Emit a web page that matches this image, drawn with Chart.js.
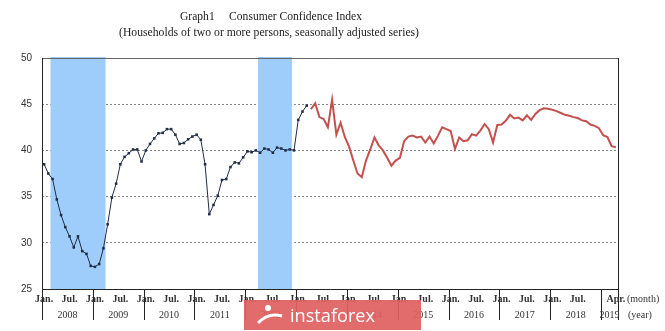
<!DOCTYPE html>
<html>
<head>
<meta charset="utf-8">
<script src="https://cdn.jsdelivr.net/npm/chart.js@4.4.0/dist/chart.umd.min.js"></script>
<style>
html, body { margin: 0; padding: 0; background: #fff; }
#wrap { width: 665px; height: 331px; }
</style>
</head>
<body>
<div id="wrap"><canvas id="cci" width="665" height="331"></canvas></div>
<script>
// months Jan 2008 .. Apr 2019
const months = [];
for (let y = 2008; y <= 2019; y++) {
    for (let m = 1; m <= 12; m++) {
        if (y === 2019 && m > 4) break;
        months.push(y + '-' + m);
    }
}
const years = ['2008', '2009', '2010', '2011', '2012', '2013', '2014', '2015', '2016', '2017', '2018', '2019'];
const yTicks = [25, 30, 35, 40, 45, 50];

// old survey method: Jan 2008 - Mar 2013
const oldSurvey = [
    38.5, 37.5, 36.9, 34.7, 33.0, 31.7, 30.7, 29.5, 30.7, 29.1, 28.8, 27.5,
    27.4, 27.7, 29.4, 32.0, 34.9, 36.4, 38.5, 39.3, 39.7, 40.1, 40.1, 38.8,
    40.0, 40.7, 41.3, 41.85, 41.9, 42.3, 42.3, 41.7, 40.7, 40.8, 41.2, 41.5,
    41.7, 41.15, 38.5, 33.1, 34.1, 35.1, 36.8, 36.9, 38.2, 38.7, 38.6, 39.25,
    39.9, 39.8, 40.0, 39.75, 40.2, 40.1, 39.75, 40.3, 40.2, 40.0, 40.1, 40.0,
    43.3, 44.2, 44.85
];
// new survey method: Apr 2013 - Apr 2019
const newSurvey = [
    44.45, 45.1, 43.6, 43.4, 42.5, 45.5, 41.7, 43.0, 41.45,
    40.4, 38.9, 37.5, 37.1, 38.9, 40.1, 41.4, 40.55, 40.0, 39.2, 38.35, 38.9,
    39.2, 41.0, 41.5, 41.6, 41.4, 41.5, 40.85, 41.5, 40.75, 41.6, 42.5, 42.3,
    42.1, 40.15, 41.4, 41.0, 41.1, 41.75, 41.6, 42.15, 42.85, 42.3, 40.85, 42.75,
    42.8, 43.2, 43.85, 43.45, 43.55, 43.25, 43.8, 43.3, 43.95, 44.35, 44.55, 44.5,
    44.4, 44.25, 44.05, 43.85, 43.75, 43.6, 43.5, 43.25, 43.15, 42.8, 42.65, 42.4,
    41.65, 41.45, 40.45, 40.35
];
// shaded periods (first month, last month)
const recessions = [['2008-3', '2009-3'], ['2012-4', '2012-11']];

const oldData = months.map((m, i) => i < oldSurvey.length ? oldSurvey[i] : null);
const newData = months.map((m, i) => {
    const k = i - (months.length - newSurvey.length);
    return k >= 0 ? newSurvey[k] : null;
});

function slotEdges(scale, idx) {
    const w = scale.width / months.length;
    const c = scale.getPixelForValue(idx);
    return [c - w / 2, c + w / 2];
}

const shadePlugin = {
    id: 'shade',
    beforeDatasetsDraw(chart) {
        const { ctx, chartArea, scales } = chart;
        ctx.save();
        ctx.fillStyle = '#9fcdfb';
        recessions.forEach(r => {
            const x1 = slotEdges(scales.x, months.indexOf(r[0]))[0];
            const x2 = slotEdges(scales.x, months.indexOf(r[1]))[1];
            ctx.fillRect(x1, chartArea.top - 1, x2 - x1, chartArea.bottom - chartArea.top + 1);
        });
        ctx.restore();
    }
};

const decoPlugin = {
    id: 'deco',
    afterDraw(chart) {
        const { ctx, chartArea, scales } = chart;
        const L = chartArea.left, R = chartArea.right, T = chartArea.top, B = chartArea.bottom;
        const x = scales.x;
        ctx.save();

        // titles
        ctx.fillStyle = '#222';
        ctx.font = '13px "Liberation Serif"';
        ctx.textAlign = 'center';
        ctx.textBaseline = 'middle';
        ctx.fillText('Graph1     Consumer Confidence Index', 271, 17, 182);
        ctx.fillText('(Households of two or more persons, seasonally adjusted series)', 269, 33, 300);

        // frame
        ctx.lineWidth = 1;
        ctx.strokeStyle = '#666';
        ctx.beginPath();
        ctx.moveTo(L + 0.5, T + 0.5); ctx.lineTo(R + 0.5, T + 0.5);
        ctx.stroke();
        ctx.strokeStyle = '#222';
        ctx.beginPath();
        ctx.moveTo(L + 0.5, T); ctx.lineTo(L + 0.5, B + 31);
        ctx.moveTo(R + 0.5, T); ctx.lineTo(R + 0.5, B + 31);
        ctx.moveTo(L, B + 0.5); ctx.lineTo(R + 1, B + 0.5);
        ctx.stroke();

        // year separators below the axis
        for (let i = 12; i < months.length; i += 12) {
            const px = Math.round(slotEdges(x, i)[0]) + 0.5;
            ctx.beginPath();
            ctx.moveTo(px, B); ctx.lineTo(px, B + 31);
            ctx.stroke();
        }

        // month labels
        ctx.fillStyle = '#333';
        ctx.font = 'bold 10px "Liberation Serif"';
        months.forEach((m, i) => {
            const mm = m.split('-')[1];
            let t = null;
            if (i === months.length - 1) t = 'Apr.';
            else if (mm === '1' && i < months.length - 4) t = 'Jan.';
            else if (mm === '7') t = 'Jul.';
            if (t) ctx.fillText(t, x.getPixelForValue(i), B + 10);
        });
        // year labels
        ctx.font = '10px "Liberation Serif"';
        years.forEach((y, k) => {
            const a = slotEdges(x, k * 12)[0];
            const b = slotEdges(x, Math.min(k * 12 + 11, months.length - 1))[1];
            ctx.fillText(y, (a + b) / 2, B + 26);
        });
        ctx.textAlign = 'left';
        ctx.fillText('(month)', R + 9, B + 10);
        ctx.fillText('(year)', R + 10, B + 26);

        // watermark
        ctx.fillStyle = 'rgba(224, 96, 96, 0.93)';
        ctx.fillRect(244, 300, 177, 30);
        ctx.fillStyle = '#fff';
        ctx.beginPath();
        ctx.arc(268, 308, 3, 0, Math.PI * 2);
        ctx.fill();
        ctx.strokeStyle = '#fff';
        ctx.lineWidth = 3;
        ctx.beginPath();
        ctx.moveTo(258, 323); ctx.quadraticCurveTo(268, 312, 282, 316);
        ctx.stroke();
        ctx.font = '19px "Open Sans"';
        ctx.textBaseline = 'alphabetic';
        ctx.fillText('instaforex', 290, 322, 85);
        ctx.restore();
    }
};

new Chart(document.getElementById('cci'), {
    type: 'line',
    data: {
        labels: months,
        datasets: [{
            data: oldData,
            borderColor: '#1f2d45',
            backgroundColor: '#1f2d45',
            borderWidth: 1,
            pointStyle: 'rect',
            pointRadius: 1.8,
            pointBorderWidth: 0,
            tension: 0
        }, {
            data: newData,
            borderColor: '#c4504d',
            borderWidth: 2,
            pointRadius: 0,
            tension: 0
        }]
    },
    options: {
        responsive: false,
        animation: false,
        events: [],
        layout: { padding: { top: 58, right: 47, bottom: 0, left: 0 } },
        plugins: { legend: { display: false }, tooltip: { enabled: false } },
        scales: {
            x: {
                offset: true,
                afterFit: s => { s.height = 42; },
                ticks: { display: false },
                grid: { display: false },
                border: { display: false }
            },
            y: {
                min: 25,
                max: 50,
                afterFit: s => { s.width = 42; },
                afterBuildTicks: s => { s.ticks = yTicks.map(v => ({ value: v })); },
                ticks: { padding: 10, color: '#333', font: { family: 'Liberation Sans', size: 10 } },
                grid: {
                    drawTicks: false,
                    color: c => (c.tick && (c.tick.value === 25 || c.tick.value === 50)) ? 'rgba(0,0,0,0)' : '#8a8a8a'
                },
                border: { display: false, dash: [2, 2] }
            }
        }
    },
    plugins: [shadePlugin, decoPlugin]
});
</script>
</body>
</html>
